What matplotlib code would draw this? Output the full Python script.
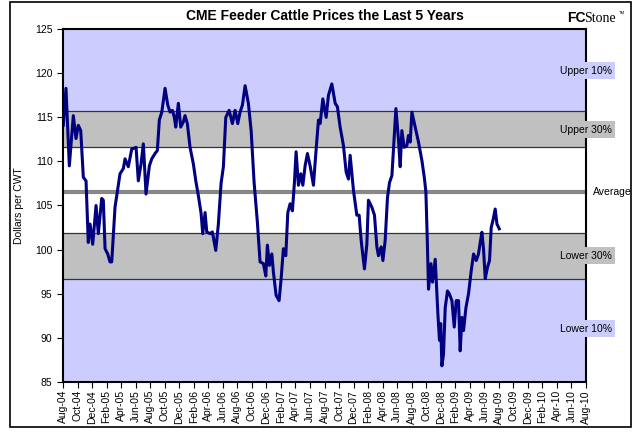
import numpy as np
import pandas as pd
import matplotlib
matplotlib.use("Agg")
import matplotlib.pyplot as plt
from matplotlib.patches import Rectangle

plt.rcParams['font.family'] = ['Liberation Sans', 'DejaVu Sans']

# months since Aug-04 and price
months = [0.04, 0.41, 0.87, 1.42, 1.79, 2.11, 2.44, 2.80, 3.17, 3.48, 3.72, 4.09, 4.55, 4.86,
          5.33, 5.55, 5.79, 6.16, 6.47, 6.71, 7.16, 7.85, 8.31, 8.54, 8.99, 9.46, 10.06, 10.37,
          10.74, 11.06, 11.43, 11.89, 12.22, 12.67, 12.99, 13.26, 13.60, 14.05, 14.42, 14.74,
          15.06, 15.33, 15.52, 15.88, 16.21, 16.57, 16.80, 17.12, 17.49, 17.95, 18.28, 18.64,
          19.01, 19.24, 19.56, 19.79, 20.25, 20.56, 21.03, 21.39, 21.76, 22.08, 22.41, 22.87,
          23.32, 23.69, 24.06, 24.38, 24.70, 25.07, 25.52, 25.90, 26.31, 26.76, 27.13, 27.59,
          27.92, 28.14, 28.42, 28.75, 28.97, 29.34, 29.75, 30.03, 30.34, 30.67, 30.95, 31.27,
          31.58, 31.86, 32.09, 32.41, 32.74, 33.02, 33.33, 33.65, 34.02, 34.48, 34.85, 35.17,
          35.40, 35.77, 36.23, 36.54, 37.01, 37.47, 37.78, 38.15, 38.61, 38.98, 39.30, 39.53,
          39.99, 40.45, 40.77, 41.05, 41.50, 41.83, 42.05, 42.52, 42.88, 43.21, 43.43, 43.80,
          44.04, 44.35, 44.67, 44.95, 45.28, 45.59, 45.83, 46.19, 46.42, 46.65, 46.97, 47.34,
          47.56, 47.80, 48.03, 48.48, 48.94, 49.41, 49.77, 49.96, 50.14, 50.32, 50.65, 50.87,
          51.24, 51.61, 51.83, 52.00, 52.16, 52.38, 52.62, 52.93, 53.17, 53.54, 53.86, 54.13,
          54.45, 54.68, 54.92, 55.14, 55.47, 55.83, 56.20, 56.52, 56.89, 57.20, 57.44, 57.67,
          57.89, 58.13, 58.44, 58.72, 58.95, 59.19, 59.50, 59.74, 60.06]
prices = [114.1, 118.3, 109.5, 115.2, 112.6, 114.1, 113.5, 108.2, 107.8, 100.8, 102.9, 100.6, 105.0, 101.8,
          105.8, 105.6, 100.1, 99.5, 98.6, 98.6, 104.8, 108.6, 109.2, 110.3, 109.4, 111.4, 111.6, 107.8,
          109.7, 112.0, 106.3, 109.5, 110.3, 110.9, 111.25, 114.7, 115.6, 118.3, 116.4, 115.6,
          115.8, 115.0, 113.9, 116.6, 113.9, 114.5, 115.2, 114.3, 111.6, 109.7, 107.8, 106.1,
          104.1, 101.8, 104.2, 102.0, 101.8, 102.0, 99.9, 102.9, 107.5, 109.4, 115.0, 115.8,
          114.3, 115.8, 114.3, 115.6, 116.4, 118.6, 116.6, 113.5, 107.6, 103.1, 98.6, 98.4,
          97.0, 100.5, 98.2, 99.5, 97.4, 94.8, 94.2, 96.7, 100.1, 99.3, 104.2, 105.2,
          104.4, 107.6, 111.1, 107.3, 108.6, 107.3, 109.5, 110.9, 109.5, 107.3, 111.4, 114.7,
          114.3, 117.1, 115.0, 117.5, 118.8, 116.6, 116.2, 113.9, 111.8, 108.8, 108.0, 110.7,
          106.7, 103.9, 103.9, 101.0, 97.8, 100.6, 105.6, 104.8, 103.9, 100.3, 99.3, 100.3,
          98.75, 101.0, 105.9, 107.6, 108.4, 112.8, 116.0, 112.4, 109.4, 113.5, 111.6, 111.8,
          112.95, 112.2, 115.6, 113.9, 112.2, 110.1, 108.0, 106.5, 101.4, 95.5, 98.4, 96.3,
          98.9, 92.7, 89.7, 91.6, 86.8, 88.1, 93.4, 95.3, 95.0, 94.2, 91.2, 94.2,
          94.2, 88.5, 92.3, 90.8, 93.4, 95.0, 97.6, 99.5, 98.75, 99.5, 100.8, 101.96,
          100.1, 96.7, 98.0, 98.75, 102.5, 103.3, 104.6, 102.9, 102.35]

# percentile levels
upper10 = 115.7
upper30 = 111.6
average = 106.5
lower30 = 101.85
lower10 = 96.7

tick_labels = pd.date_range("2004-08-01", "2010-08-01", freq="2MS").strftime("%b-%y").tolist()

fig = plt.figure(figsize=(6.4, 4.33), dpi=100)
ax = fig.add_axes([63/640, 1-381.7/433, 523/640, 352.4/433])

blue = "#CCCCFF"
grey = "#C0C0C0"
ax.axhspan(85, lower10, color=blue, lw=0)
ax.axhspan(lower10, lower30, color=grey, lw=0)
ax.axhspan(lower30, upper30, color="white", lw=0)
ax.axhspan(upper30, upper10, color=grey, lw=0)
ax.axhspan(upper10, 125, color=blue, lw=0)
for lv in [lower10, lower30, upper30, upper10]:
    ax.axhline(lv, color="#333333", lw=0.9)
ax.axhline(average, color="#888888", lw=3)

ax.plot(months, prices, color="#000080", lw=2.2, solid_joinstyle="round")

ax.set_xlim(0, 72)
ax.set_ylim(85, 125)
ax.set_yticks(np.arange(85, 126, 5))
ax.set_xticks(np.arange(0, 73, 2))
ax.set_xticklabels(tick_labels, rotation=90, fontsize=7.5)
ax.tick_params(axis="y", labelsize=7.5, length=4, width=0.8)
ax.tick_params(axis="x", length=4, width=0.8, pad=2)
for s in ax.spines.values():
    s.set_linewidth(1.5)
ax.set_ylabel("Dollars per CWT", fontsize=7.5, labelpad=8)

ax.set_title("CME Feeder Cattle Prices the Last 5 Years", fontsize=10, fontweight="bold", pad=7)

# band labels sitting on the right edge
lab = dict(fontsize=7.5, ha="center", va="center", clip_on=False)
ax.text(72, 120.3, "Upper 10%", bbox=dict(fc=blue, ec="none", pad=2.5), **lab)
ax.text(72, 113.6, "Upper 30%", bbox=dict(fc=grey, ec="none", pad=2.5), **lab)
ax.text(72, 99.3, "Lower 30%", bbox=dict(fc=grey, ec="none", pad=2.5), **lab)
ax.text(72, 91.0, "Lower 10%", bbox=dict(fc=blue, ec="none", pad=2.5), **lab)
ax.text(73, average, "Average", fontsize=7.5, ha="left", va="center", clip_on=False)

# logo
fig.text(567/640, 1-18/433, "FC", fontsize=10, fontweight="bold", ha="left", va="center")
fig.text(584/640, 1-18/433, "Stone", fontsize=10, family="Liberation Serif", ha="left", va="center")
fig.text(619/640, 1-13/433, "TM", fontsize=3, ha="left", va="center")

fig.patches.append(Rectangle((10/640, 6/433), 621/640, 425/433, transform=fig.transFigure,
                             fill=False, ec="black", lw=1.2))

fig.savefig("out.png", dpi=100)
